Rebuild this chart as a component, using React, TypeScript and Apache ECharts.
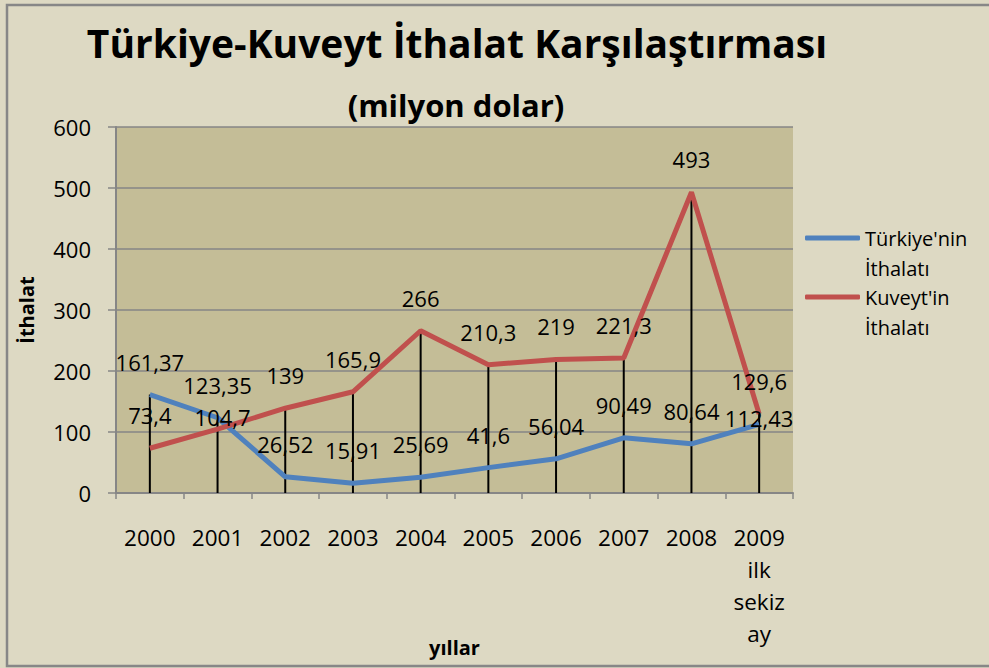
import React, { useEffect, useRef } from "react";
import * as echarts from "echarts";

const categories = ["2000", "2001", "2002", "2003", "2004", "2005", "2006", "2007", "2008", "2009\nilk\nsekiz\nay"];
const turkiyeValues = [161.37, 123.35, 26.52, 15.91, 25.69, 41.6, 56.04, 90.49, 80.64, 112.43];
const kuveytValues = [73.4, 104.7, 139, 165.9, 266, 210.3, 219, 221.3, 493, 129.6];
const yTicks = { min: 0, max: 600, interval: 100 };

const FONT = "'Open Sans', 'Noto Sans', sans-serif";
const fmt = (v: number) => String(v).replace(".", ",");

export default function App() {
  const ref = useRef<HTMLDivElement>(null);
  useEffect(() => {
    if (!ref.current) return;
    const chart = echarts.init(ref.current, undefined, { renderer: "svg" });
    const dropValues = turkiyeValues.map((v, i) => Math.max(v, kuveytValues[i]));
    const labelOffsets: Record<string, [number, number]> = {
      "k1": [5, 21],
      "t9": [0, 27],
    };
    const mk = (vals: number[], key: string) =>
      vals.map((v, i) => {
        const off = labelOffsets[key + i];
        return off ? { value: v, label: { offset: off } } : { value: v };
      });
    const dataLabel = {
      show: true,
      position: "top",
      distance: 22,
      color: "#000",
      fontFamily: FONT,
      fontSize: 22,
      formatter: (p: any) => fmt(p.value),
    };
    chart.setOption({
      animation: false,
      backgroundColor: "#DDD9C3",
      textStyle: { fontFamily: FONT },
      title: [
        {
          text: "Türkiye-Kuveyt İthalat Karşılaştırması",
          left: 452,
          top: 18,
          textAlign: "center",
          textStyle: { fontFamily: FONT, fontSize: 39, fontWeight: "bold", color: "#000" },
        },
        {
          text: "(milyon dolar)",
          left: 451,
          top: 84,
          textAlign: "center",
          textStyle: { fontFamily: FONT, fontSize: 31, fontWeight: "bold", color: "#000" },
        },
      ],
      legend: {
        orient: "vertical",
        left: 805,
        top: 193,
        padding: 0,
        itemWidth: 55,
        itemHeight: 5,
        itemGap: -31,
        icon: "roundRect",
        data: ["Türkiye'nin İthalatı", "Kuveyt'in İthalatı"],
        formatter: (n: string) => "\n" + n.replace(" ", "\n"),
        textStyle: {
          fontFamily: FONT,
          fontSize: 20,
          lineHeight: 30,
          color: "#000",
        },
      },
      grid: {
        left: 116,
        top: 127,
        right: 196,
        bottom: 175,
        outerBoundsMode: "none",
        containLabel: false,
        show: true,
        backgroundColor: "#C4BD97",
        borderWidth: 0,
      },
      xAxis: {
        type: "category",
        data: categories,
        boundaryGap: true,
        name: "yıllar",
        nameLocation: "middle",
        nameGap: 144,
        nameMoveOverlap: false,
        nameTextStyle: { fontFamily: FONT, fontSize: 20, fontWeight: "bold", color: "#000" },
        axisLine: { lineStyle: { color: "#868686", width: 2 } },
        axisTick: { show: true, length: 6, lineStyle: { color: "#868686", width: 1.5 } },
        axisLabel: {
          color: "#000",
          fontFamily: FONT,
          fontSize: 22.5,
          lineHeight: 32,
          margin: 28,
          interval: 0,
        },
      },
      yAxis: {
        type: "value",
        min: yTicks.min,
        max: yTicks.max,
        interval: yTicks.interval,
        name: "İthalat",
        nameLocation: "middle",
        nameRotate: 90,
        nameGap: 80,
        nameMoveOverlap: false,
        nameTextStyle: { fontFamily: FONT, fontSize: 20, fontWeight: "bold", color: "#000" },
        axisLine: { show: true, lineStyle: { color: "#868686", width: 2 } },
        axisTick: { show: true, length: 8, lineStyle: { color: "#868686", width: 1.5 } },
        splitLine: { show: true, lineStyle: { color: "#868686", width: 1.5 } },
        axisLabel: { color: "#000", fontFamily: FONT, fontSize: 22, margin: 25 },
      },
      series: [
        {
          type: "bar",
          name: "drop",
          data: dropValues,
          barWidth: 2,
          itemStyle: { color: "#000" },
          z: 1,
          silent: true,
        },
        {
          type: "line",
          name: "Türkiye'nin İthalatı",
          data: mk(turkiyeValues, "t"),
          color: "#4F81BD",
          lineStyle: { width: 5, color: "#4F81BD" },
          symbol: "circle",
          symbolSize: 0.01,
          showSymbol: true,
          z: 3,
          label: dataLabel,
        },
        {
          type: "line",
          name: "Kuveyt'in İthalatı",
          data: mk(kuveytValues, "k"),
          color: "#C0504D",
          lineStyle: { width: 5, color: "#C0504D" },
          symbol: "circle",
          symbolSize: 0.01,
          showSymbol: true,
          z: 3,
          label: dataLabel,
        },
      ],
      graphic: [
        {
          type: "rect",
          shape: { x: 7, y: 5, width: 1000, height: 661 },
          style: { fill: "none", stroke: "#878787", lineWidth: 2.5 },
          silent: true,
          z: 100,
        },
      ],
    });
    return () => chart.dispose();
  }, []);
  return (
    <div
      ref={ref}
      style={{ position: "fixed", left: 0, top: 0, width: 989, height: 668 }}
    />
  );
}
